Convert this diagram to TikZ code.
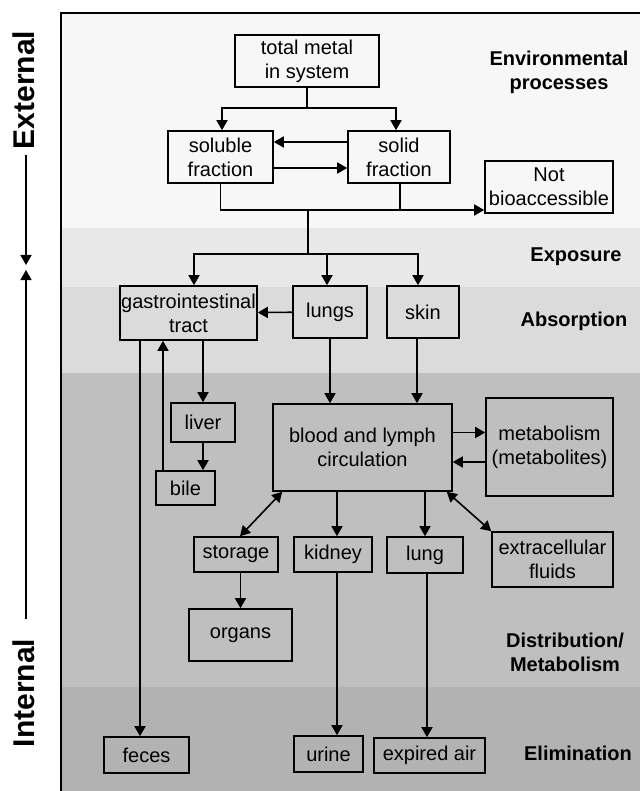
\documentclass[tikz,border=0pt]{standalone}
\usepackage{fontspec}
\setmainfont{Liberation Sans}
\usetikzlibrary{arrows.meta}

\begin{document}
\begin{tikzpicture}[x=1pt,y=-1pt,
  box/.style={draw,line width=1.6pt,inner sep=0pt,align=center,font=\fontsize{20}{24}\selectfont},
  band/.style={font=\fontsize{20}{24}\selectfont\bfseries,align=center},
  side/.style={font=\fontsize{30}{36}\selectfont\bfseries,rotate=90,inner sep=6pt},
  ln/.style={line width=1.6pt},
  arr/.style={line width=1.6pt,-{Triangle[length=10pt,width=11pt]}},
  dbl/.style={line width=1.6pt,{Triangle[length=10pt,width=11pt]}-{Triangle[length=10pt,width=11pt]}}]
\useasboundingbox (0,0) rectangle (639,791);
\fill[white] (0,0) rectangle (639,791);
\fill[black!3] (61,13) rectangle (640,228);
\fill[black!9] (61,228) rectangle (640,287);
\fill[black!14] (61,287) rectangle (640,373);
\fill[black!25] (61,373) rectangle (640,687);
\fill[black!30] (61,687) rectangle (640,792);
\draw[line width=1.4pt] (61,792) -- (61,13) -- (640,13);
\node[band] (envlab) at (559,72) {Environmental\\processes};
\node[band] (explab) at (576,257) {Exposure};
\node[band] (abslab) at (574,321) {Absorption};
\node[band] (distlab) at (565,652) {Distribution/\\Metabolism};
\node[band] (elimlab) at (578,753) {Elimination};
\node[side] (ext) at (24,90) {External};
\node[side] (int) at (24,693) {Internal};
\coordinate (extend) at (26,265);
\coordinate (intend) at (26,270);
\draw[arr] (ext.west -| extend) -- (extend);
\draw[arr] ([yshift=14pt]int.east -| intend) -- (intend);
\node[box,minimum width=144pt,minimum height=52pt] (total) at (307,61) {total metal\\in system};
\node[box,minimum width=105pt,minimum height=52pt] (soluble) at (220.5,157) {soluble\\fraction};
\node[box,minimum width=102pt,minimum height=52pt] (solid) at (399,157) {solid\\fraction};
\node[box,minimum width=128pt,minimum height=52pt] (notbio) at (549,187) {Not\\bioaccessible};
\node[box,minimum width=137pt,minimum height=54pt] (gi) at (188.5,313) {gastrointestinal\\tract};
\node[box,minimum width=74pt,minimum height=52pt] (lungs) at (330,312) {lungs};
\node[box,minimum width=72pt,minimum height=52pt] (skin) at (423,312) {skin};
\node[box,minimum width=64pt,minimum height=39pt] (liver) at (203,422.5) {liver};
\node[box,minimum width=59pt,minimum height=34pt] (bile) at (185.5,488) {bile};
\node[box,minimum width=179pt,minimum height=87pt] (blood) at (362.5,447.5) {blood and lymph\\circulation};
\node[box,minimum width=127pt,minimum height=98pt] (metab) at (549.5,447) {metabolism\\(metabolites)};
\node[box,minimum width=84pt,minimum height=35pt] (storage) at (236,554.5) {storage};
\node[box,minimum width=103pt,minimum height=52pt] (organs) at (240.5,635) {organs};
\node[box,minimum width=78pt,minimum height=35pt] (kidney) at (333,554.5) {kidney};
\node[box,minimum width=76pt,minimum height=36pt] (lung) at (425,555) {lung};
\node[box,minimum width=121pt,minimum height=55pt] (extra) at (552.5,559.5) {extracellular\\fluids};
\node[box,minimum width=85pt,minimum height=36pt] (feces) at (146.5,755) {feces};
\node[box,minimum width=69pt,minimum height=36pt] (urine) at (328.5,754) {urine};
\node[box,minimum width=111pt,minimum height=35pt] (expired) at (429.5,755.5) {expired air};
\coordinate (merge) at (308,210);
\coordinate (expo) at (308,254);
\draw[ln] (total.south) -- ++(0,20) coordinate (split);
\draw[arr] (split) -| ([xshift=1.5pt]soluble.north);
\draw[arr] (split) -| ([xshift=-3pt]solid.north);
\draw[arr] ([yshift=15pt]solid.west) -- ([yshift=15pt]soluble.east);
\draw[arr] ([yshift=-11pt]soluble.east) -- ([yshift=-11pt]solid.west);
\draw[arr] (soluble.south) |- (merge -| notbio.west);
\draw[ln] ([xshift=1pt]solid.south) -- ([xshift=1pt]solid.south |- merge);
\draw[ln] (merge) -- (expo);
\draw[arr] (expo) -| ([xshift=5.5pt]gi.north);
\draw[arr] (expo) -| ([xshift=-3pt]lungs.north);
\draw[arr] (expo) -| ([xshift=-5pt]skin.north);
\draw[arr] (lungs) -- (gi);
\draw[arr] (gi.south -| liver.north) -- (liver.north);
\draw[arr] (liver.south) -- (liver.south |- bile.north);
\draw[arr] ([xshift=-22.5pt]bile.north) -- ([xshift=-22.5pt]bile.north |- gi.south);
\draw[arr] ([xshift=-48.5pt]gi.south) -- ([xshift=-48.5pt]gi.south |- feces.north);
\draw[arr] (lungs.south) -- (lungs.south |- blood.north);
\draw[arr] ([xshift=-6pt]skin.south) -- ([xshift=-6pt]skin.south |- blood.north);
\draw[arr] ([yshift=15pt]blood.east) -- ([yshift=15pt]blood.east -| metab.west);
\draw[arr] ([yshift=-15pt]metab.west) -- ([yshift=-15pt]metab.west -| blood.east);
\draw[dbl] ([xshift=10pt]blood.south west) -- ([xshift=4pt]storage.north);
\draw[dbl] ([xshift=-6pt]blood.south east) -- (extra.north west);
\draw[arr] ([xshift=4pt]kidney.north |- blood.south) -- ([xshift=4pt]kidney.north);
\draw[arr] ([xshift=4pt]kidney.south) -- ([xshift=4pt]kidney.south |- urine.north);
\draw[arr] (lung.north |- blood.south) -- (lung.north);
\draw[arr] ([xshift=2pt]lung.south) -- ([xshift=2pt]lung.south |- expired.north);
\draw[arr] (organs.north |- storage.south) -- (organs.north);
\end{tikzpicture}
\end{document}
